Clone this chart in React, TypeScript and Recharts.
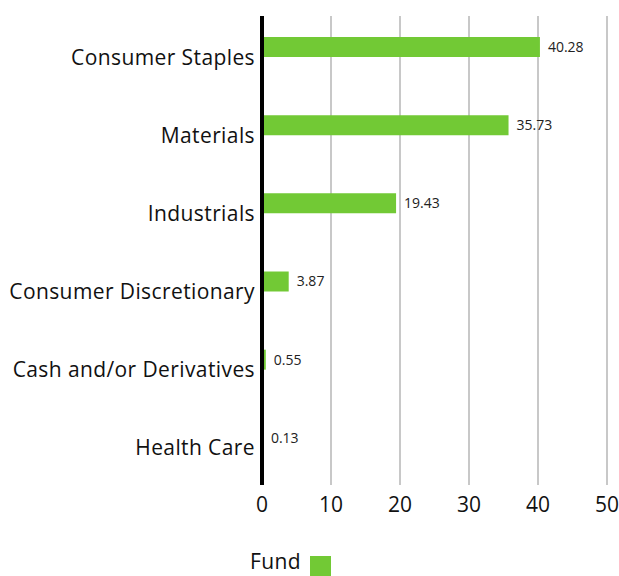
import { BarChart, Bar, XAxis, YAxis, CartesianGrid, LabelList } from 'recharts'

const sectors = [
  'Consumer Staples',
  'Materials',
  'Industrials',
  'Consumer Discretionary',
  'Cash and/or Derivatives',
  'Health Care',
]
const fundWeights = [40.28, 35.73, 19.43, 3.87, 0.55, 0.13]
const xTicks = [0, 10, 20, 30, 40, 50]
const seriesName = 'Fund'

const GREEN = '#72c935'
const FONT = '"Open Sans", sans-serif'

const data = sectors.map((name, i) => ({ name, fund: fundWeights[i] }))

export default function App() {
  return (
    <div style={{ position: 'absolute', left: 0, top: 0, width: 619, height: 576, background: '#fff', fontFamily: FONT, overflow: 'hidden' }}>
      <BarChart
        width={619}
        height={576}
        data={data}
        layout="vertical"
        margin={{ top: 16, right: 12, left: 0, bottom: 0 }}
        barGap={0}
      >
        <CartesianGrid horizontal={false} stroke="#c8c8c8" strokeWidth={2} />
        <XAxis
          type="number"
          domain={[0, 50]}
          ticks={xTicks}
          axisLine={false}
          tickLine={false}
          tickSize={0}
          tickMargin={12}
          height={91}
          tick={{ fill: '#111', fontSize: 21, fontFamily: FONT }}
        />
        <YAxis
          type="category"
          dataKey="name"
          width={262}
          axisLine={{ stroke: '#000', strokeWidth: 4 }}
          tickLine={false}
          tickSize={0}
          tickMargin={7}
          tick={{ fill: '#111', fontSize: 21, fontFamily: FONT, dy: 2, letterSpacing: 0.4 }}
        />
        <Bar dataKey="fund" name={seriesName} fill={GREEN} barSize={20} isAnimationActive={false}>
          <LabelList
            dataKey="fund"
            position="right"
            offset={8}
            formatter={(v: number) => v.toFixed(2)}
            style={{ fill: '#222', fontSize: 14, fontFamily: FONT }}
          />
        </Bar>
        {/* empty second slot, keeps the fund bar in the upper part of each band */}
        <Bar dataKey="benchmark" barSize={16} fill="transparent" legendType="none" isAnimationActive={false} />
      </BarChart>
      <span
        style={{
          position: 'absolute',
          left: 250,
          top: 551,
          fontSize: 21,
          lineHeight: '21px',
          letterSpacing: 0.4,
          color: '#111',
        }}
      >
        {seriesName}
      </span>
      <span style={{ position: 'absolute', left: 310, top: 556, width: 21, height: 21, background: GREEN }} />
    </div>
  )
}
